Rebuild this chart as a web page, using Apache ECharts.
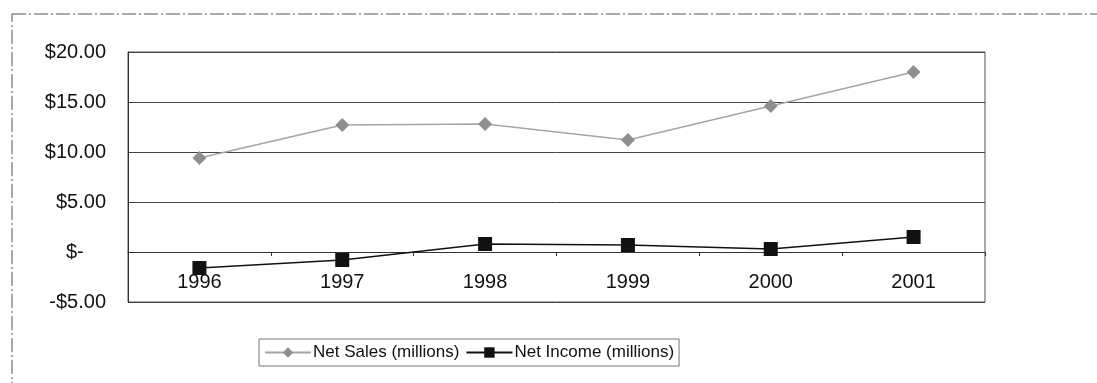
<!DOCTYPE html>
<html>
<head>
<meta charset="utf-8">
<script src="https://cdn.jsdelivr.net/npm/echarts@6/dist/echarts.min.js"></script>
<style>
  html, body { margin: 0; padding: 0; background: #fff; }
  #chart { width: 1097px; height: 383px; }
</style>
</head>
<body>
<div id="chart"></div>
<script>
// data (millions of dollars)
const years = ['1996', '1997', '1998', '1999', '2000', '2001'];
const netSales = [9.4, 12.7, 12.8, 11.2, 14.6, 18.0];
const netIncome = [-1.6, -0.8, 0.8, 0.7, 0.3, 1.5];
const seriesNames = ['Net Sales (millions)', 'Net Income (millions)'];

const chart = echarts.init(document.getElementById('chart'));

// excel style accounting labels
function money(v) {
  if (v === 0) return '$-    ';
  if (v < 0) return '-$' + Math.abs(v).toFixed(2);
  return '$' + v.toFixed(2);
}

const font = 'Liberation Sans, Arial, sans-serif';

const option = {
  backgroundColor: '#fff',
  textStyle: { fontFamily: font },
  graphic: [
    {
      type: 'rect',
      shape: { x: 12, y: 14, width: 1100, height: 400 },
      style: { fill: 'none', stroke: '#555', lineWidth: 1, lineDash: [14, 3, 2, 3] },
      silent: true
    }
  ],
  grid: {
    left: 128,
    right: 112,
    top: 52,
    bottom: 81,
    show: true,
    borderColor: '#555',
    borderWidth: 1,
    backgroundColor: 'transparent'
  },
  legend: {
    data: seriesNames,
    top: 339,
    left: 259,
    borderColor: '#777',
    borderWidth: 1,
    padding: [5, 5],
    itemGap: 6,
    itemWidth: 46,
    itemHeight: 13,
    textStyle: { fontSize: 17, color: '#111', fontFamily: font, padding: [0, 0, 0, -3] }
  },
  xAxis: {
    type: 'category',
    data: years,
    boundaryGap: true,
    axisLine: { onZero: true, lineStyle: { color: '#333', width: 1 } },
    axisTick: { show: true, length: 4, lineStyle: { color: '#333' } },
    axisLabel: { fontSize: 20, color: '#111', margin: -30 },
    splitLine: { show: false }
  },
  yAxis: {
    type: 'value',
    min: -5,
    max: 20,
    interval: 5,
    axisLine: { show: true, lineStyle: { color: '#333' } },
    axisTick: { show: false },
    axisLabel: { fontSize: 20, color: '#111', margin: 22, formatter: money },
    splitLine: { show: true, lineStyle: { color: '#444', width: 1 } }
  },
  series: [
    {
      name: seriesNames[0],
      type: 'line',
      data: netSales,
      symbol: 'diamond',
      symbolSize: 14,
      lineStyle: { color: '#a5a5a5', width: 1.5 },
      itemStyle: { color: '#8f8f8f' },
      z: 3
    },
    {
      name: seriesNames[1],
      type: 'line',
      data: netIncome,
      symbol: 'rect',
      symbolSize: 14,
      lineStyle: { color: '#111', width: 1.5 },
      itemStyle: { color: '#111' },
      z: 3
    }
  ]
};

chart.setOption(option);
</script>
</body>
</html>
